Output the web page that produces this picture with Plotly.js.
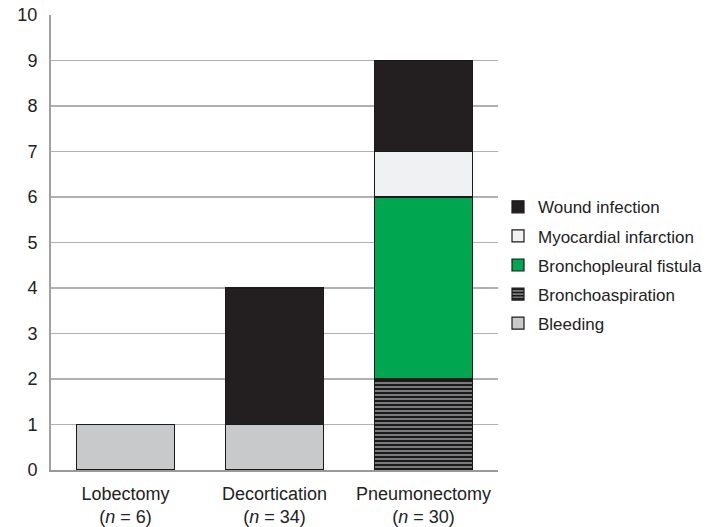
<!DOCTYPE html>
<html><head><meta charset="utf-8">
<script src="https://cdn.plot.ly/plotly-3.0.1.min.js"></script>
<style>html,body{margin:0;padding:0;background:#fff}</style>
</head><body>
<div id="chart" style="width:720px;height:527px"></div>
<script>
const categories = ["Lobectomy<br>(<i>n</i> = 6)", "Decortication<br>(<i>n</i> = 34)", "Pneumonectomy<br>(<i>n</i> = 30)"];
const bleeding = [1, 1, 0];
const bronchoaspiration = [0, 0, 2];
const bronchopleuralFistula = [0, 0, 4];
const myocardialInfarction = [0, 0, 1];
const woundInfection = [0, 3, 2];

const line = {color: '#1a1a1a', width: 1.2};
function tr(name, y, color, rank, pattern) {
  const m = {color: color, line: line};
  if (pattern) m.pattern = pattern;
  return {type: 'bar', name: name, legendgroup: name, legendrank: rank, x: categories, y: y, marker: m, hoverinfo: 'none'};
}
const data = [
  tr('Bleeding', bleeding, '#c8c9cb', 5),
  tr('Bronchoaspiration', bronchoaspiration, '#7a7a7c', 4, {shape: '-', fgcolor: '#1a1a1a', bgcolor: '#7a7a7c', size: 4, solidity: 0.5, fillmode: 'replace'}),
  tr('Bronchopleural fistula', bronchopleuralFistula, '#00a650', 3),
  tr('Myocardial infarction', myocardialInfarction, '#f0f1f2', 2),
  tr('Wound infection', woundInfection, '#231f20', 1)
];
const layout = {
  width: 720, height: 527,
  margin: {l: 51, r: 219, t: 15, b: 57},
  barmode: 'stack', bargap: 0.347,
  paper_bgcolor: '#fff', plot_bgcolor: '#fff',
  font: {family: 'Liberation Sans, Arial, sans-serif', size: 18, color: '#222'},
  xaxis: {showline: true, linecolor: '#999', linewidth: 2, ticks: '', tickfont: {size: 18}, ticklabelstandoff: 6},
  yaxis: {range: [0, 10], dtick: 1, showgrid: true, gridcolor: '#b0b0b0', gridwidth: 1.5,
          showline: true, linecolor: '#a0a0a0', linewidth: 2, ticks: '', zeroline: false,
          tickfont: {size: 18}, ticklabelstandoff: 8},
  legend: {x: 1.0, y: 0.45, xanchor: 'left', yanchor: 'middle', traceorder: 'grouped',
           font: {size: 17}, itemwidth: 30, tracegroupgap: 4},
  showlegend: true
};
Plotly.newPlot('chart', data, layout, {displayModeBar: false, staticPlot: true});
</script>
</body></html>
